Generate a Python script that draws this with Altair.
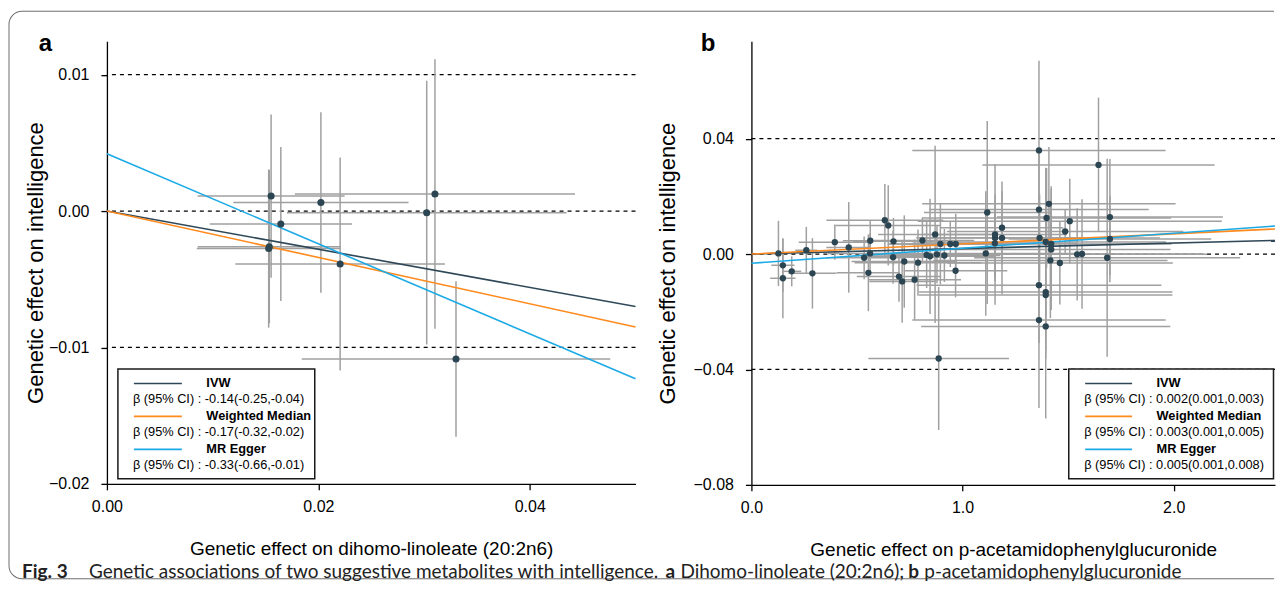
import math
import altair as alt
import pandas as pd

# ---------------- Panel a : dihomo-linoleate (20:2n6) ----------------
a_x = [0.01553, 0.01645, 0.02024, 0.01536, 0.01530, 0.02206, 0.03025, 0.03103, 0.03302]
a_y = [0.00110, -0.00095, 0.00063, -0.00261, -0.00275, -0.00388, -0.00012, 0.00125, -0.01084]
a_xe = [0.00696, 0.00673, 0.00829, 0.00677, 0.00680, 0.00991, 0.01323, 0.01325, 0.01459]
a_ye = [0.00598, 0.00564, 0.00662, 0.00562, 0.00580, 0.00781, 0.00967, 0.00988, 0.00570]

# ---------------- Panel b : p-acetamidophenylglucuronide ----------------
b_x = [0.128, 0.149, 0.149, 0.191, 0.260, 0.289, 0.395, 0.461, 0.534, 0.554,
       0.563, 0.562, 0.632, 0.648, 0.673, 0.671, 0.699, 0.714, 0.724, 0.773,
       0.789, 0.810, 0.830, 0.846, 0.870, 0.879, 0.895, 0.914, 0.942, 0.968,
       0.967, 0.887, 1.110, 1.117, 1.153, 1.154, 1.154, 1.187, 1.187, 1.362,
       1.362, 1.365, 1.362, 1.362, 1.394, 1.398, 1.409, 1.416, 1.420, 1.420,
       1.394, 1.394, 1.394, 1.461, 1.486, 1.508, 1.543, 1.566, 1.644, 1.685,
       1.698, 1.698]
b_y = [0.0002, -0.0039, -0.0084, -0.0060, 0.0013, -0.0067, 0.0041, 0.0023, -0.0013, -0.0065,
       0.0046, 0.0002, 0.0117, 0.0099, 0.0044, -0.0011, -0.0078, -0.0095, -0.0026, -0.0089,
       -0.0030, 0.0047, -0.0003, -0.0008, 0.0068, -0.0001, 0.0035, -0.0005, 0.0035, 0.0035,
       -0.0058, -0.0362, 0.0002, 0.0144, 0.0037, 0.0068, 0.0056, 0.0091, 0.0056, 0.0359,
       0.0154, 0.0056, -0.0108, -0.0229, 0.0042, 0.0125, 0.0174, -0.0022, 0.0035, 0.0016,
       -0.0132, -0.0142, -0.0251, -0.0031, 0.0078, 0.0114, -0.0001, 0.0000, 0.0309, -0.0013,
       0.0128, 0.0052]
b_xe = [0.044, 0.055, 0.060, 0.045, 0.052, 0.114, 0.171, 0.106, 0.180, 0.150,
        0.130, 0.200, 0.277, 0.250, 0.190, 0.250, 0.200, 0.155, 0.250, 0.220,
        0.300, 0.245, 0.260, 0.310, 0.270, 0.280, 0.245, 0.265, 0.290, 0.250,
        0.245, 0.333, 0.465, 0.300, 0.390, 0.340, 0.375, 0.290, 0.375, 0.600,
        0.520, 0.570, 0.580, 0.600, 0.570, 0.590, 0.600, 0.555, 0.570, 0.565,
        0.600, 0.600, 0.590, 0.535, 0.560, 0.720, 0.615, 0.575, 0.550, 0.630,
        0.535, 0.480]
b_ye = [0.0113, 0.0092, 0.0139, 0.0052, 0.0081, 0.0122, 0.0061, 0.0157, 0.0074, 0.0133,
        0.0069, 0.0070, 0.0126, 0.0139, 0.0081, 0.0092, 0.0087, 0.0143, 0.0160, 0.0139,
        0.0115, 0.0079, 0.0115, 0.0200, 0.0307, 0.0100, 0.0140, 0.0092, 0.0080, 0.0105,
        0.0092, 0.0248, 0.0216, 0.0317, 0.0120, 0.0244, 0.0150, 0.0127, 0.0195, 0.0311,
        0.0200, 0.0150, 0.0200, 0.0305, 0.0257, 0.0173, 0.0197, 0.0200, 0.0200, 0.0210,
        0.0200, 0.0220, 0.0319, 0.0144, 0.0075, 0.0147, 0.0160, 0.0190, 0.0233, 0.0343,
        0.0201, 0.0150]

# ---------------- MR estimates ----------------
methods = ["IVW", "Weighted Median", "MR Egger"]
method_colors = ["#2F4858", "#FF8A1E", "#1CAAE6"]
a_slopes = [-0.14, -0.17, -0.33]
a_intercepts = [0.0, 0.0, 0.0042]
b_slopes = [0.0019, 0.0035, 0.0052]
b_intercepts = [0.0, 0.0, -0.0032]
a_ci = ["β (95% CI) : -0.14(-0.25,-0.04)", "β (95% CI) : -0.17(-0.32,-0.02)",
        "β (95% CI) : -0.33(-0.66,-0.01)"]
b_ci = ["β (95% CI) : 0.002(0.001,0.003)", "β (95% CI) : 0.003(0.001,0.005)",
        "β (95% CI) : 0.005(0.001,0.008)"]

a_refs = [0.01, 0.0, -0.01]
b_refs = [0.04, 0.0, -0.04]
a_xticks = [0.0, 0.02, 0.04]
a_yticks = [-0.02, -0.01, 0.0, 0.01]
b_xticks = [0.0, 1.0, 2.0]
b_yticks = [-0.08, -0.04, 0.0, 0.04]

caption_parts = [
    ("Fig. 3", "bold"),
    ("Genetic associations of two suggestive metabolites with intelligence.", "normal"),
    ("a", "bold"),
    ("Dihomo-linoleate (20:2n6);", "normal"),
    ("b", "bold"),
    ("p-acetamidophenylglucuronide", "normal"),
]

AX_FONT = "Liberation Sans"
POINT_COLOR = "#2B4652"
BAR_COLOR = "#A0A0A0"
FRAME_COLOR = "#6e6e6e"
one = pd.DataFrame({"k": [0]})


def make_panel(xs, ys, xes, yes, xdom, ydom, xticks, yticks, xfmt, yfmt, refs,
               slopes, intercepts, cis, xtitle, box, ytitle_pad, label,
               label_x, psize):
    pts = pd.DataFrame({
        "x": xs, "y": ys,
        "xlo": [x - e for x, e in zip(xs, xes)],
        "xhi": [x + e for x, e in zip(xs, xes)],
        "ylo": [y - e for y, e in zip(ys, yes)],
        "yhi": [y + e for y, e in zip(ys, yes)],
    })
    lines = pd.DataFrame({
        "method": methods,
        "x0": [xdom[0]] * 3,
        "x1": [xdom[1]] * 3,
        "y0": [b + m * xdom[0] for m, b in zip(slopes, intercepts)],
        "y1": [b + m * xdom[1] for m, b in zip(slopes, intercepts)],
    })
    ref_df = pd.DataFrame({"r": refs})

    style = dict(labelFont=AX_FONT, labelFontSize=16, labelColor="black",
                 titleFont=AX_FONT, titleFontWeight="normal",
                 titleColor="black", domainColor="black", domainWidth=1.3,
                 tickColor="black", tickWidth=1.3, tickSize=6, grid=False,
                 labelFlush=False, labelOverlap=False)
    xaxis = alt.Axis(values=xticks, format=xfmt, title=xtitle, labelPadding=9,
                     titlePadding=25, titleFontSize=19, **style)
    yaxis = alt.Axis(values=yticks, format=yfmt,
                     title="Genetic effect on intelligence", labelPadding=12,
                     titlePadding=ytitle_pad, titleFontSize=22, **style)
    xs_ = alt.Scale(domain=xdom, nice=False, zero=False)
    ys_ = alt.Scale(domain=ydom, nice=False, zero=False)

    def X(f):
        return alt.X(f, type="quantitative", scale=xs_, axis=xaxis)

    def Y(f):
        return alt.Y(f, type="quantitative", scale=ys_, axis=yaxis)

    cscale = alt.Scale(domain=methods, range=method_colors)

    layers = []
    layers.append(alt.Chart(ref_df).mark_rule(color="black", strokeWidth=1.2,
                                              strokeDash=[4, 4]).encode(y=Y("r")))
    layers.append(alt.Chart(pts).mark_rule(color=BAR_COLOR, strokeWidth=1.5).encode(
        x=X("xlo"), x2="xhi", y=Y("y")))
    layers.append(alt.Chart(pts).mark_rule(color=BAR_COLOR, strokeWidth=1.5).encode(
        x=X("x"), y=Y("ylo"), y2="yhi"))
    layers.append(alt.Chart(lines).mark_rule(strokeWidth=1.6).encode(
        x=X("x0"), x2="x1", y=Y("y0"), y2="y1",
        color=alt.Color("method:N", scale=cscale, legend=None)))
    layers.append(alt.Chart(pts).mark_circle(size=psize, color=POINT_COLOR,
                                             opacity=1).encode(x=X("x"), y=Y("y")))

    # custom legend box
    bx0, bx1, by0, by1, sx0, sx1, tx, cx = box
    layers.append(alt.Chart(one).mark_rect(fill="white", stroke="#1a1a1a",
                                           strokeWidth=1.5).encode(
        x=alt.value(bx0), x2=alt.value(bx1), y=alt.value(by0), y2=alt.value(by1)))
    for i, (m, col, ci) in enumerate(zip(methods, method_colors, cis)):
        ry = by0 + 14.5 + i * 33
        layers.append(alt.Chart(one).mark_rule(color=col, strokeWidth=1.6).encode(
            x=alt.value(sx0), x2=alt.value(sx1), y=alt.value(ry)))
        layers.append(alt.Chart(one).mark_text(
            text=m, font=AX_FONT, fontSize=12.8, fontWeight="bold", color="black",
            align="left", baseline="middle").encode(x=alt.value(tx), y=alt.value(ry)))
        layers.append(alt.Chart(one).mark_text(
            text=ci, font=AX_FONT, fontSize=12.8, color="black",
            align="left", baseline="middle").encode(x=alt.value(cx),
                                                    y=alt.value(ry + 15.5)))
    layers.append(alt.Chart(one).mark_text(
        text=label, font=AX_FONT, fontSize=24, fontWeight="bold", color="black",
        align="center", baseline="middle").encode(x=alt.value(label_x), y=alt.value(3)))
    return layers


# ---------- panel a ----------
la = make_panel(
    a_x, a_y, a_xe, a_ye, [0.0, 0.05], [-0.02, -0.02 + 443 / 13650],
    a_xticks, a_yticks, ".2f", ".2f", a_refs, a_slopes, a_intercepts, a_ci,
    "Genetic effect on dihomo-linoleate (20:2n6)",
    (11, 208, 328, 438, 27, 75, 99.5, 26), 1, "a", -61.5, 50)

# figure frame (open to the right, rounded left corners) in panel a's coordinates
FL, FT, FB, FR, RAD = -98, -30, 538, 1168, 13
frame = [
    alt.Chart(one).mark_rule(color=FRAME_COLOR, strokeWidth=1).encode(
        x=alt.value(FL), y=alt.value(FT + RAD), y2=alt.value(FB - RAD)),
    alt.Chart(one).mark_rule(color=FRAME_COLOR, strokeWidth=1).encode(
        x=alt.value(FL + RAD), x2=alt.value(FR), y=alt.value(FT)),
    alt.Chart(one).mark_rule(color=FRAME_COLOR, strokeWidth=1).encode(
        x=alt.value(FL + RAD), x2=alt.value(FR), y=alt.value(FB)),
    alt.Chart(one).mark_arc(radius=RAD + 0.5, radius2=RAD - 0.5, color=FRAME_COLOR,
                            theta=1.5 * math.pi, theta2=2 * math.pi).encode(
        x=alt.value(FL + RAD), y=alt.value(FT + RAD)),
    alt.Chart(one).mark_arc(radius=RAD + 0.5, radius2=RAD - 0.5, color=FRAME_COLOR,
                            theta=math.pi, theta2=1.5 * math.pi).encode(
        x=alt.value(FL + RAD), y=alt.value(FB - RAD)),
]

cap_x = [-85, -18, 559, 574, 802, 818]
caps = []
for (txt, wt), cxp in zip(caption_parts, cap_x):
    caps.append(alt.Chart(one).mark_text(
        text=txt, font="Lato", fontSize=19, fontWeight=wt, color="#222222",
        align="left", baseline="middle").encode(x=alt.value(cxp), y=alt.value(531)))

panel_a = alt.layer(*frame, *la, *caps).properties(width=529, height=443)

# ---------- panel b ----------
lb = make_panel(
    b_x, b_y, b_xe, b_ye, [0.0, 2.48], [-0.08, -0.08 + 444 / 2887.5],
    b_xticks, b_yticks, ".1f", ".2f", b_refs, b_slopes, b_intercepts, b_ci,
    "Genetic effect on p-acetamidophenylglucuronide",
    (317.6, 522.5, 328, 438, 334, 381, 405.4, 333), 13, "b", -43.4, 40)
panel_b = alt.layer(*lb).properties(width=524, height=444)

chart = alt.hconcat(panel_a, panel_b, spacing=116, bounds="flush").properties(
    padding={"left": 0, "top": 2, "right": 0, "bottom": 0}
).configure_view(stroke=None)

chart.save("out.html", embed_options={"renderer": "svg", "actions": False})
